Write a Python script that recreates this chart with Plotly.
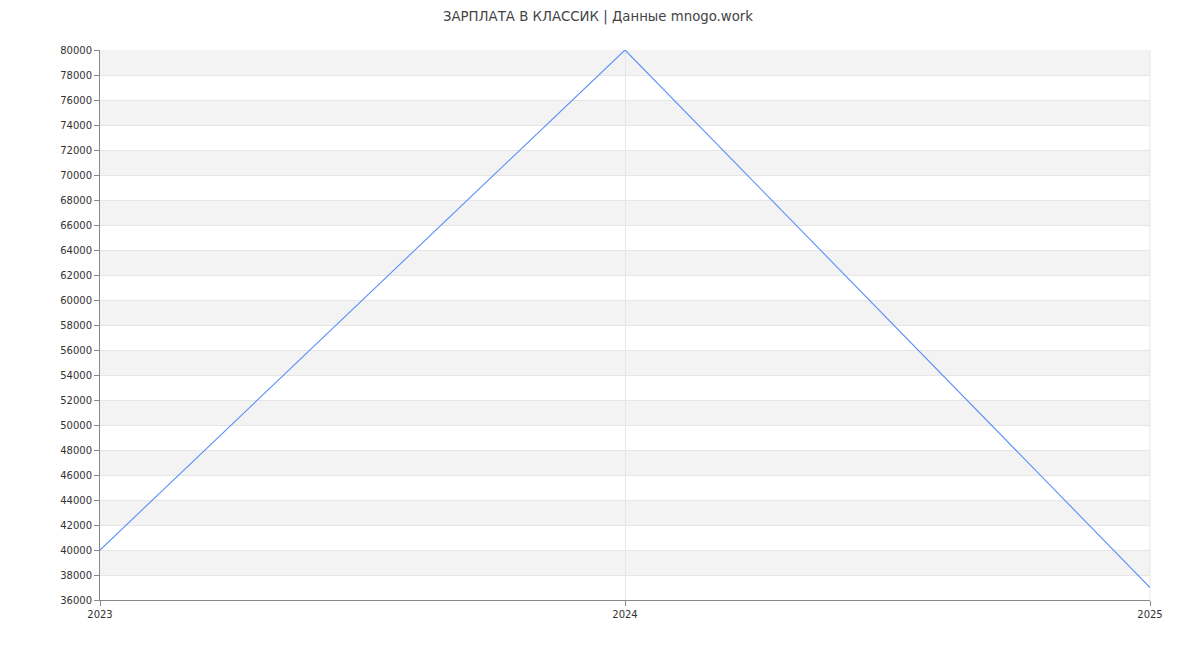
import plotly.graph_objects as go

years = [2023, 2024, 2025]
salary = [40000, 80000, 37000]
y_min, y_max, y_step = 36000, 80000, 2000

fig = go.Figure()

# alternating background bands
shapes = []
for lo in range(38000, y_max, 4000):
    shapes.append(dict(type="rect", xref="paper", yref="y", x0=0, x1=1, y0=lo, y1=lo + 2000,
                       fillcolor="#f3f3f3", line_width=0, layer="below"))
# right border
shapes.append(dict(type="line", xref="paper", yref="paper", x0=1, x1=1, y0=0, y1=1,
                   line=dict(color="#e6e6e6", width=1), layer="below"))

fig.add_trace(go.Scatter(x=years, y=salary, mode="lines",
                         line=dict(color="#5b8ff9", width=1.1), hoverinfo="x+y"))

fig.update_layout(
    width=1200, height=650,
    margin=dict(l=92, r=58, t=42, b=58),
    paper_bgcolor="white", plot_bgcolor="white",
    showlegend=False,
    shapes=shapes,
    font=dict(family="DejaVu Sans", size=11, color="#333333"),
    title=dict(text="ЗАРПЛАТА В КЛАССИК | Данные mnogo.work", x=590 / 1200, xanchor="center",
               xref="container", yref="container",
               y=1 - 4 / 650, yanchor="top", pad=dict(t=0, b=0),
               font=dict(size=13.3, color="#444444")),
)
fig.update_xaxes(range=[2023, 2025], tickvals=years, ticktext=[str(y) for y in years],
                 showgrid=True, gridcolor="#e6e6e6", gridwidth=1,
                 showline=True, linecolor="#888888", linewidth=1,
                 ticks="outside", ticklen=5, tickcolor="#888888",
                 zeroline=False, tickfont=dict(size=10))
fig.update_yaxes(range=[y_min, y_max], dtick=y_step, tick0=y_min,
                 showgrid=True, gridcolor="#e6e6e6", gridwidth=1,
                 showline=True, linecolor="#888888", linewidth=1,
                 ticks="outside", ticklen=5, tickcolor="#888888",
                 zeroline=False, tickfont=dict(size=10), tickformat="d")

fig.write_html("out.html")
